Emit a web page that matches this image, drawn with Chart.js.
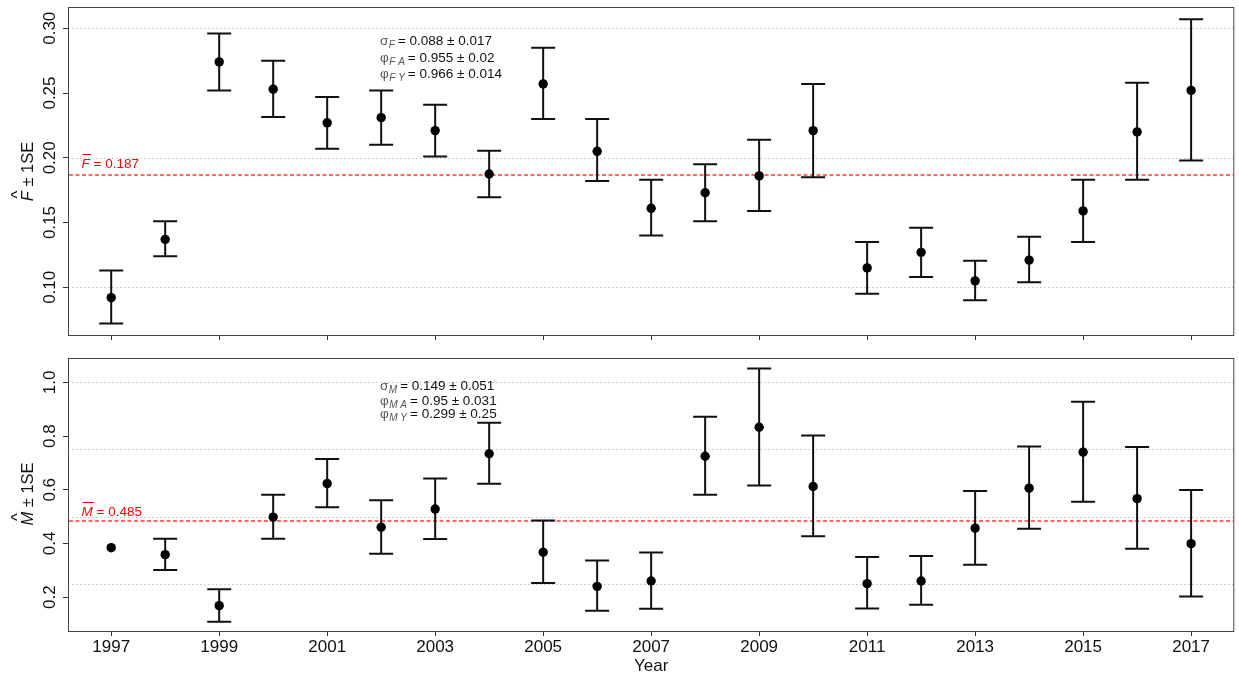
<!DOCTYPE html>
<html>
<head>
<meta charset="utf-8">
<script src="https://cdn.jsdelivr.net/npm/chart.js@4.4.1/dist/chart.umd.min.js"></script>
<style>
  html, body { margin: 0; padding: 0; background: #ffffff; }
  #wrap { position: relative; width: 1239px; height: 681px; overflow: hidden; }
  canvas { position: absolute; left: 0; }
</style>
</head>
<body>
<div id="wrap">
  <canvas id="fChart" width="1239" height="345" style="top:0px"></canvas>
  <canvas id="mChart" width="1239" height="336" style="top:345px"></canvas>
</div>
<script>
// Survey years
const years = [1997, 1998, 1999, 2000, 2001, 2002, 2003, 2004, 2005, 2006, 2007,
               2008, 2009, 2010, 2011, 2012, 2013, 2014, 2015, 2016, 2017];
const yearTicks = [1997, 1999, 2001, 2003, 2005, 2007, 2009, 2011, 2013, 2015, 2017];

// Fishing mortality estimates (F) with +/- 1 SE bounds
const fEst   = [0.092, 0.137, 0.274, 0.253, 0.227, 0.231, 0.221, 0.1875, 0.257, 0.205, 0.161,
                0.173, 0.186, 0.221, 0.115, 0.127, 0.105, 0.121, 0.159, 0.220, 0.252];
const fUpper = [0.113, 0.151, 0.296, 0.275, 0.247, 0.252, 0.241, 0.2055, 0.285, 0.230, 0.183,
                0.195, 0.214, 0.257, 0.135, 0.146, 0.1205, 0.139, 0.183, 0.258, 0.307];
const fLower = [0.072, 0.124, 0.252, 0.2315, 0.207, 0.210, 0.201, 0.1695, 0.230, 0.182, 0.140,
                0.151, 0.159, 0.185, 0.095, 0.108, 0.090, 0.104, 0.135, 0.183, 0.198];
const fMean = 0.187;

// Natural mortality estimates (M) with +/- 1 SE bounds (no SE for the first year)
const mEst   = [0.384, 0.358, 0.168, 0.498, 0.623, 0.460, 0.528, 0.734, 0.367, 0.240, 0.260,
                0.725, 0.833, 0.612, 0.250, 0.260, 0.457, 0.606, 0.740, 0.567, 0.399];
const mUpper = [null, 0.417, 0.229, 0.581, 0.715, 0.561, 0.642, 0.850, 0.485, 0.336, 0.366,
                0.872, 1.052, 0.802, 0.349, 0.353, 0.595, 0.761, 0.928, 0.759, 0.599];
const mLower = [null, 0.301, 0.108, 0.417, 0.535, 0.361, 0.416, 0.622, 0.252, 0.149, 0.156,
                0.581, 0.616, 0.427, 0.157, 0.171, 0.320, 0.455, 0.555, 0.380, 0.202];
const mMean = 0.485;

// Axis ticks, tick labels and reference grid lines
const fTicks = [0.10, 0.15, 0.20, 0.25, 0.30];
const fTickLabels = ['0.10', '0.15', '0.20', '0.25', '0.30'];
const fGrid = [0.10, 0.20, 0.30];
const mTicks = [0.2, 0.4, 0.6, 0.8, 1.0];
const mTickLabels = ['0.2', '0.4', '0.6', '0.8', '1.0'];
const mGrid = [0.25, 0.50, 0.75, 1.00];

// Model parameter estimates shown in each panel: [symbol, subscript, value]
const fParams = [['σ', 'F', '0.088 ± 0.017'], ['φ', 'FA', '0.955 ± 0.02'], ['φ', 'FY', '0.966 ± 0.014']];
const mParams = [['σ', 'M', '0.149 ± 0.051'], ['φ', 'MA', '0.95 ± 0.031'], ['φ', 'MY', '0.299 ± 0.25']];

const FONT = '"Liberation Sans", Arial, Helvetica, sans-serif';
const fontStr = (size, italic) => (italic ? 'italic ' : '') + size + 'px ' + FONT;

function drawParams(ctx, x, baselines, rows) {
  ctx.textAlign = 'left';
  ctx.textBaseline = 'alphabetic';
  rows.forEach((r, i) => {
    let cx = x;
    const by = baselines[i];
    ctx.fillStyle = '#555';
    ctx.font = fontStr(13.5);
    ctx.fillText(r[0], cx, by);
    cx += ctx.measureText(r[0]).width + 0.5;
    const sub = r[1].split('').join(' ');
    ctx.font = fontStr(10, true);
    ctx.fillText(sub, cx, by + 3);
    cx += ctx.measureText(sub).width + 3;
    ctx.fillStyle = '#111';
    ctx.font = fontStr(13.5);
    ctx.fillText('= ' + r[2], cx, by);
  });
}

function drawMeanLabel(ctx, x, y, letter, value) {
  ctx.fillStyle = '#ff0000';
  ctx.strokeStyle = '#ff0000';
  ctx.textAlign = 'left';
  ctx.textBaseline = 'alphabetic';
  ctx.font = fontStr(13.5, true);
  ctx.fillText(letter, x, y);
  const w = ctx.measureText(letter).width;
  ctx.lineWidth = 1;
  ctx.setLineDash([]);
  ctx.beginPath();
  ctx.moveTo(x + 1, y - 13.5);
  ctx.lineTo(x + w + 1.5, y - 13.5);
  ctx.stroke();
  ctx.font = fontStr(13.5);
  ctx.fillText(' = ' + value.toFixed(3), x + w, y);
}

function drawYTitle(ctx, baseX, centerY, letter) {
  ctx.save();
  ctx.translate(baseX, centerY);
  ctx.rotate(-Math.PI / 2);
  const size = 16.5;
  const rest = ' ± 1SE';
  ctx.font = fontStr(size, true);
  const wL = ctx.measureText(letter).width;
  ctx.font = fontStr(size);
  const wR = ctx.measureText(rest).width;
  const x0 = -(wL + wR) / 2;
  ctx.fillStyle = '#111';
  ctx.textAlign = 'left';
  ctx.textBaseline = 'alphabetic';
  ctx.font = fontStr(size, true);
  ctx.fillText(letter, x0, 0);
  ctx.font = fontStr(size);
  const wh = ctx.measureText('^').width;
  ctx.fillText('^', x0 + wL / 2 - wh / 2 + 1.5, -10.5);
  ctx.fillText(rest, x0 + wL, 0);
  ctx.restore();
}

// Draws grid, mean line, error bars, frame and annotations for a panel
function panelPlugin(p) {
  return {
    id: 'panelDecor',
    beforeDatasetsDraw(chart) {
      const { ctx, chartArea: a, scales: { x: xs, y: ys } } = chart;
      ctx.save();
      // dotted reference grid
      ctx.strokeStyle = '#c4c4c4';
      ctx.lineWidth = 1;
      ctx.setLineDash([1.5, 2.5]);
      p.grid.forEach(v => {
        const y = Math.round(ys.getPixelForValue(v)) + 0.5;
        ctx.beginPath(); ctx.moveTo(a.left, y); ctx.lineTo(a.right, y); ctx.stroke();
      });
      // mean line
      ctx.strokeStyle = 'rgba(255, 70, 70, 0.8)';
      ctx.lineWidth = 2;
      ctx.setLineDash([4, 2.5]);
      const my = Math.round(ys.getPixelForValue(p.mean));
      ctx.beginPath(); ctx.moveTo(a.left + 1, my); ctx.lineTo(a.right - 1, my); ctx.stroke();
      ctx.setLineDash([]);
      // error bars
      ctx.strokeStyle = '#111';
      ctx.lineWidth = 2;
      years.forEach((yr, i) => {
        if (p.upper[i] == null || p.lower[i] == null) return;
        const x = xs.getPixelForValue(yr);
        const yHi = ys.getPixelForValue(p.upper[i]);
        const yLo = ys.getPixelForValue(p.lower[i]);
        ctx.beginPath();
        ctx.moveTo(x, yHi); ctx.lineTo(x, yLo);
        ctx.moveTo(x - 12, yHi); ctx.lineTo(x + 12, yHi);
        ctx.moveTo(x - 12, yLo); ctx.lineTo(x + 12, yLo);
        ctx.stroke();
      });
      ctx.restore();
    },
    afterDraw(chart) {
      const { ctx, chartArea: a, scales: { y: ys } } = chart;
      ctx.save();
      // frame
      ctx.strokeStyle = '#444';
      ctx.lineWidth = 1;
      ctx.setLineDash([]);
      ctx.strokeRect(a.left + 0.5, a.top + 0.5, a.right - a.left - 1, a.bottom - a.top);
      // rotated y tick labels
      ctx.fillStyle = '#111';
      ctx.font = fontStr(17);
      ctx.textAlign = 'center';
      ctx.textBaseline = 'alphabetic';
      p.ticks.forEach((v, i) => {
        const y = ys.getPixelForValue(v);
        ctx.save();
        ctx.translate(55, y);
        ctx.rotate(-Math.PI / 2);
        ctx.fillText(p.tickLabels[i], 0, 0);
        ctx.restore();
      });
      drawYTitle(ctx, 33, p.titleY, p.letter);
      drawMeanLabel(ctx, 81.5, p.meanLabelY, p.letter, p.mean);
      drawParams(ctx, 380, p.paramY, p.params);
      ctx.restore();
    }
  };
}

function makePanel(canvasId, p) {
  const data = years.map((yr, i) => ({ x: yr, y: p.est[i] }));
  return new Chart(document.getElementById(canvasId), {
    type: 'scatter',
    data: {
      datasets: [{
        data: data,
        pointRadius: 4.7,
        pointHoverRadius: 4.7,
        backgroundColor: '#000',
        borderColor: '#000',
        borderWidth: 0
      }]
    },
    options: {
      responsive: false,
      animation: false,
      devicePixelRatio: 1,
      events: [],
      layout: { padding: { top: p.padTop, right: 1, left: 0, bottom: 0 } },
      plugins: { legend: { display: false }, tooltip: { enabled: false } },
      scales: {
        x: {
          type: 'linear',
          min: 1996.2,
          max: 2017.8,
          afterBuildTicks: s => { s.ticks = yearTicks.map(v => ({ value: v })); },
          afterFit: s => { s.height = p.xHeight; },
          grid: { drawOnChartArea: false, drawTicks: true, tickLength: 5, tickColor: '#333', tickWidth: 1 },
          border: { display: false },
          ticks: {
            display: p.showX,
            color: '#111',
            font: { family: FONT, size: 17 },
            padding: 1,
            maxRotation: 0,
            minRotation: 0,
            autoSkip: false,
            callback: v => String(v)
          },
          title: {
            display: p.showX,
            text: 'Year',
            color: '#111',
            font: { family: FONT, size: 17 },
            padding: { top: 0, bottom: 4 }
          }
        },
        y: {
          type: 'linear',
          min: p.yMin,
          max: p.yMax,
          afterBuildTicks: s => { s.ticks = p.ticks.map(v => ({ value: v })); },
          afterFit: s => { s.width = 68; },
          grid: { drawOnChartArea: false, drawTicks: true, tickLength: 5, tickColor: '#333', tickWidth: 1 },
          border: { display: false },
          ticks: { display: false }
        }
      }
    },
    plugins: [panelPlugin(p)]
  });
}

makePanel('fChart', {
  est: fEst, upper: fUpper, lower: fLower, mean: fMean,
  ticks: fTicks, tickLabels: fTickLabels, grid: fGrid, params: fParams,
  letter: 'F', yMin: 0.0632, yMax: 0.3164,
  padTop: 7, xHeight: 10, showX: false,
  titleY: 171.5, meanLabelY: 168, paramY: [45, 62, 78]
});

makePanel('mChart', {
  est: mEst, upper: mUpper, lower: mLower, mean: mMean,
  ticks: mTicks, tickLabels: mTickLabels, grid: mGrid, params: mParams,
  letter: 'M', yMin: 0.0735, yMax: 1.091,
  padTop: 13, xHeight: 50, showX: true,
  titleY: 149, meanLabelY: 171, paramY: [45, 60, 73]
});
</script>
</body>
</html>
